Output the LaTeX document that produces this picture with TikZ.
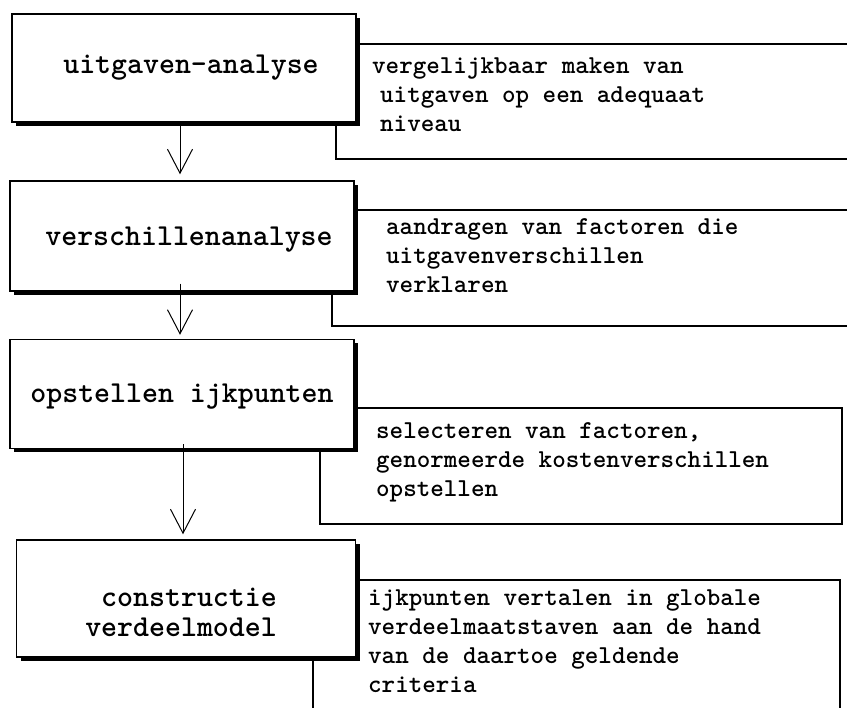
\documentclass[tikz,border=0pt]{standalone}
\usepackage{fontspec}
\usetikzlibrary{arrows.meta,shadows}
\newcommand{\boxfont}{\ttfamily\bfseries\fontsize{30.4}{30}\selectfont}
\newcommand{\sidefont}{\ttfamily\bfseries\fontsize{25.8}{29}\selectfont}
\begin{document}
\begin{tikzpicture}[x=1pt,y=-1pt,
  mainbox/.style={draw, line width=1.4pt, fill=white, rectangle, inner sep=0pt,
    drop shadow={shadow xshift=4pt, shadow yshift=-4pt, opacity=1, fill=black}},
  maintext/.style={inner sep=0pt, font=\boxfont},
  sidebox/.style={draw, line width=1.3pt, rectangle, inner sep=0pt},
  sidetext/.style={anchor=north west, inner sep=0pt, align=left, font=\sidefont},
  flow/.style={draw, line width=1pt, -{Straight Barb[length=24pt,width=25pt]}}]
\useasboundingbox (0,0) rectangle (847,708);
\fill[white] (0,0) rectangle (847,708);
% side boxes (behind)
\node[sidebox, minimum width=534pt, minimum height=115pt] (s1) at (603,101.5) {};
\node[sidebox, minimum width=538pt, minimum height=116pt] (s2) at (601,268) {};
\node[sidebox, minimum width=522pt, minimum height=116pt] (s3) at (581,466) {};
\node[sidebox, minimum width=527pt, minimum height=150pt] (s4) at (576.5,655) {};
% side texts
\node[sidetext] (t1) at (372,58) {vergelijkbaar maken van\\\hspace*{8pt}uitgaven op een adequaat\\\hspace*{8pt}niveau};
\node[sidetext] (t2) at (386,218) {aandragen van factoren die\\uitgavenverschillen\\verklaren};
\node[sidetext] (t3) at (376,422) {selecteren van factoren,\\genormeerde kostenverschillen\\opstellen};
\node[sidetext] (t4) at (368,590) {ijkpunten vertalen in globale\\verdeelmaatstaven aan de hand\\van de daartoe geldende\\criteria};
% main boxes
\node[mainbox, minimum width=344pt, minimum height=108pt] (b1) at (184,68) {};
\node[mainbox, minimum width=344pt, minimum height=110pt] (b2) at (182,236) {};
\node[mainbox, minimum width=344pt, minimum height=109pt] (b3) at (182,394) {};
\node[mainbox, minimum width=339pt, minimum height=117pt] (b4) at (186,598.5) {};
\node[maintext] (m1) at (191,68) {uitgaven-analyse};
\node[maintext] (m2) at (189,240) {verschillenanalyse};
\node[maintext] (m3) at (182,397) {opstellen ijkpunten};
\node[maintext, align=right, anchor=east] (m4) at (277,612) {constructie\\verdeelmodel};
% arrows
\draw[flow, shorten >=6pt] ([xshift=-4pt]b1.south) -- ([xshift=-4pt]b1.south |- b2.north);
\draw[flow, shorten <=-8pt, shorten >=4pt] ([xshift=-2pt]b2.south) -- ([xshift=-2pt]b2.south |- b3.north);
\draw[flow, shorten <=-5pt, shorten >=5pt] ([xshift=1pt]b3.south) -- ([xshift=1pt]b3.south |- b4.north);
\end{tikzpicture}
\end{document}
